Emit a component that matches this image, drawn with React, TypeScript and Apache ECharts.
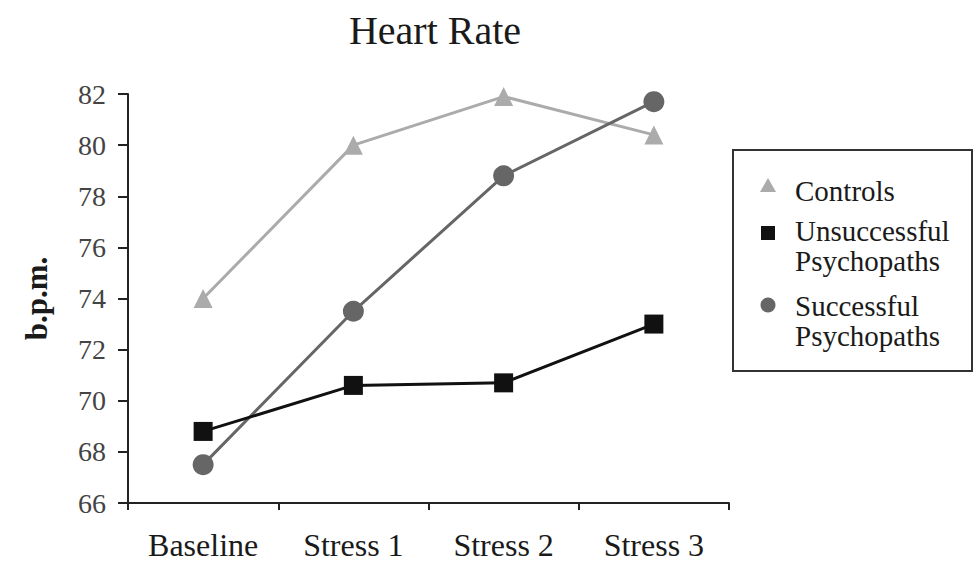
import React, { useEffect, useRef } from "react";
import * as echarts from "echarts";

const categories = ["Baseline", "Stress 1", "Stress 2", "Stress 3"];
const controls = [74.0, 80.0, 81.9, 80.4];
const unsuccessful = [68.8, 70.6, 70.7, 73.0];
const successful = [67.5, 73.5, 78.8, 81.7];
const seriesNames = ["Controls", "Unsuccessful Psychopaths", "Successful Psychopaths"];
const legendLines = [
  ["Controls"],
  ["Unsuccessful", "Psychopaths"],
  ["Successful", "Psychopaths"],
];
const yTicks = { min: 66, max: 82, step: 2 };

const FONT = "'Liberation Serif', 'DejaVu Serif', serif";

export default function App() {
  const ref = useRef<HTMLDivElement>(null);
  useEffect(() => {
    if (!ref.current) return;
    const chart = echarts.init(ref.current, null, { renderer: "svg" });
    const lineY = [[191], [231, 261], [306, 336]];
    const legendTexts: any[] = [];
    legendLines.forEach((lines, i) => {
      lines.forEach((t, j) => {
        legendTexts.push({
          type: "text",
          x: 795,
          y: lineY[i][j],
          style: { text: t, font: `29px ${FONT}`, fill: "#1a1a1a", verticalAlign: "middle" },
        });
      });
    });
    chart.setOption({
      animation: false,
      backgroundColor: "#ffffff",
      title: {
        text: "Heart Rate",
        left: 430,
        textAlign: "center",
        top: 5,
        textStyle: { fontFamily: FONT, fontSize: 40, fontWeight: "normal", color: "#1a1a1a" },
      },
      grid: { left: 128, right: 244, top: 94, bottom: 62, containLabel: false },
      xAxis: {
        type: "category",
        data: categories,
        boundaryGap: true,
        axisLine: { lineStyle: { color: "#222", width: 2 } },
        axisTick: { show: true, length: 7, lineStyle: { color: "#222", width: 2 } },
        axisLabel: { fontFamily: FONT, fontSize: 32, color: "#1a1a1a", margin: 26 },
      },
      yAxis: {
        type: "value",
        min: yTicks.min,
        max: yTicks.max,
        interval: yTicks.step,
        name: "b.p.m.",
        nameLocation: "middle",
        nameRotate: 90,
        nameGap: 76,
        nameTextStyle: { fontFamily: FONT, fontSize: 31, fontWeight: "bold", color: "#1a1a1a" },
        axisLine: { show: true, lineStyle: { color: "#222", width: 2 } },
        axisTick: { show: true, length: 10, lineStyle: { color: "#222", width: 2 } },
        axisLabel: { fontFamily: FONT, fontSize: 28, color: "#444", margin: 22 },
        splitLine: { show: false },
      },
      series: [
        {
          name: seriesNames[0],
          type: "line",
          data: controls,
          symbol: "triangle",
          symbolSize: 19,
          itemStyle: { color: "#ababab" },
          lineStyle: { color: "#ababab", width: 3 },
          z: 2,
        },
        {
          name: seriesNames[1],
          type: "line",
          data: unsuccessful,
          symbol: "rect",
          symbolSize: 19,
          itemStyle: { color: "#111111" },
          lineStyle: { color: "#111111", width: 3 },
          z: 4,
        },
        {
          name: seriesNames[2],
          type: "line",
          data: successful,
          symbol: "circle",
          symbolSize: 21,
          itemStyle: { color: "#666666" },
          lineStyle: { color: "#666666", width: 3 },
          z: 3,
        },
      ],
      graphic: [
        {
          type: "rect",
          shape: { x: 733, y: 150, width: 239, height: 221 },
          style: { fill: "#fff", stroke: "#333", lineWidth: 2 },
        },
        {
          type: "polygon",
          shape: { points: [[768, 178], [776, 192], [760, 192]] },
          style: { fill: "#ababab" },
        },
        {
          type: "rect",
          shape: { x: 761, y: 226, width: 14, height: 14 },
          style: { fill: "#111" },
        },
        {
          type: "circle",
          shape: { cx: 768, cy: 305, r: 7.5 },
          style: { fill: "#666" },
        },
        ...legendTexts,
      ],
    });
    return () => chart.dispose();
  }, []);
  return (
    <div
      ref={ref}
      style={{ position: "absolute", left: 0, top: 0, width: 973, height: 565 }}
    />
  );
}
